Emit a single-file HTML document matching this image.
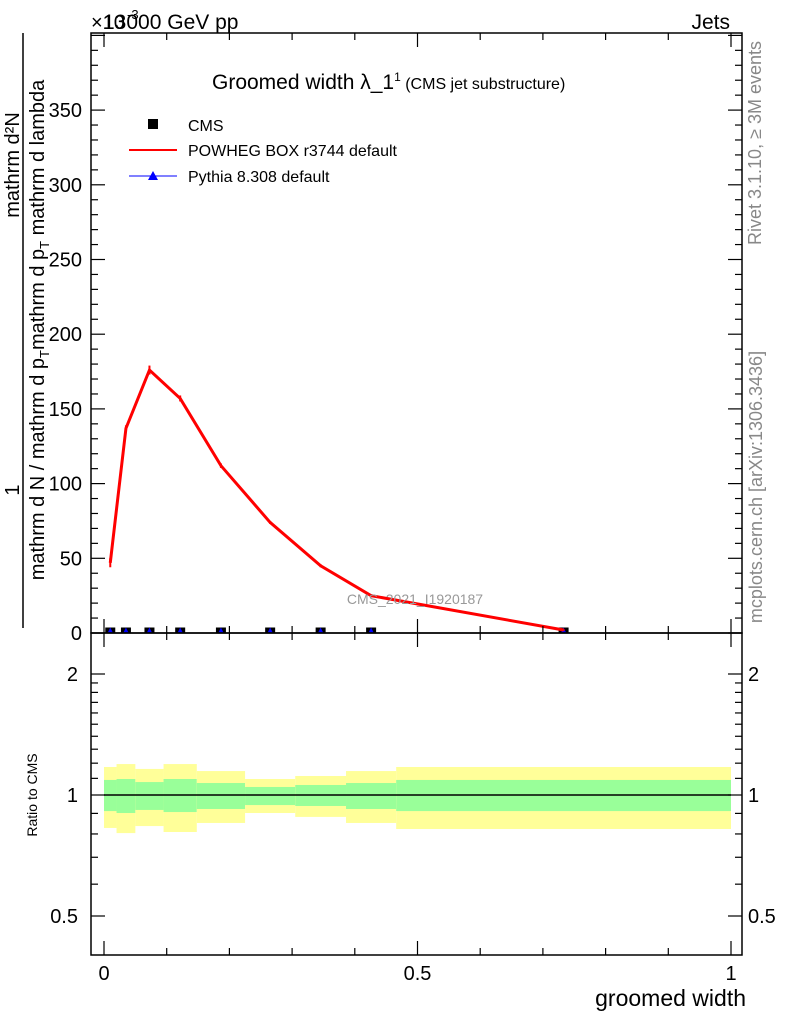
<!DOCTYPE html>
<html><head><meta charset="utf-8"><style>
body{margin:0;background:#fff}
svg{display:block;font-family:"Liberation Sans",sans-serif}
</style></head><body>
<svg id="plot" width="786" height="1024" viewBox="0 0 786 1024" xmlns="http://www.w3.org/2000/svg">
<g id="bands"></g>
<g id="main"></g>
<g id="axes"></g>
<text x="91" y="29" font-size="20">×10</text>
<text x="127" y="19" font-size="13">-3</text>
<text x="103" y="29" font-size="21">13000 GeV pp</text>
<text x="730" y="29" font-size="21" text-anchor="end">Jets</text>
<text x="212" y="89" font-size="21">Groomed width λ_1<tspan font-size="12" dy="-8">1</tspan><tspan font-size="16" dy="8"> (CMS jet substructure)</tspan></text>
<g>
<rect x="148" y="119" width="10" height="10" fill="#000"/>
<text x="188" y="131" font-size="16">CMS</text>
<line x1="129" y1="150" x2="177" y2="150" stroke="red" stroke-width="2"/>
<text x="188" y="156" font-size="16">POWHEG BOX r3744 default</text>
<line x1="129" y1="176" x2="177" y2="176" stroke="blue" stroke-width="1"/>
<polygon points="153,171 148,180 158,180" fill="blue"/>
<text x="188" y="182" font-size="16">Pythia 8.308 default</text>
</g>
<text x="415" y="604" font-size="14" fill="#999" text-anchor="middle">CMS_2021_I1920187</text>
<g>
<line x1="23" y1="33" x2="23" y2="628" stroke="#000" stroke-width="1.5"/>
<text transform="translate(19,490) rotate(-90)" font-size="20" text-anchor="middle">1</text>
<text transform="translate(19,165) rotate(-90)" font-size="20" text-anchor="middle">mathrm d²N</text>
<text transform="translate(44,330) rotate(-90)" font-size="20" text-anchor="middle">mathrm d N / mathrm d p<tspan font-size="13" dy="5">T</tspan><tspan dy="-5">mathrm d p</tspan><tspan font-size="13" dy="5">T</tspan><tspan dy="-5"> mathrm d lambda</tspan></text>
</g>
<text transform="translate(37,795) rotate(-90)" font-size="14" text-anchor="middle">Ratio to CMS</text>
<text x="746" y="1006" font-size="23" text-anchor="end">groomed width</text>
<text transform="translate(761,143) rotate(-90)" font-size="18" fill="#888" text-anchor="middle">Rivet 3.1.10, ≥ 3M events</text>
<text transform="translate(762,487) rotate(-90)" font-size="18" fill="#888" text-anchor="middle">mcplots.cern.ch [arXiv:1306.3436]</text>
</svg>
<script>
const binEdges=[0,0.02,0.05,0.095,0.148,0.225,0.305,0.386,0.466,1.0];
const powhegValues=[47,137,176,157,112,74,45,25,2];
const powhegErr=[3,2,3,2,1.5,1,1,1,0.5];
const cmsValues=[1,1,1,1,1,1,1,1,1];
const yellowUp=[1.174,1.194,1.161,1.194,1.147,1.096,1.115,1.147,1.174];
const yellowLo=[0.828,0.804,0.837,0.809,0.852,0.902,0.882,0.852,0.823];
const greenUp=[1.09,1.096,1.077,1.096,1.071,1.047,1.059,1.071,1.09];
const greenLo=[0.912,0.902,0.918,0.907,0.923,0.944,0.939,0.923,0.912];
const mainYTicks=[0,50,100,150,200,250,300,350];
const ratioYTicks=[0.5,1,2];
const xTicks=[0,0.5,1];

const NS="http://www.w3.org/2000/svg";
const L=91,R=742,T=33,B=633,RB=955;
const sx=v=>104+v*627;
const sy=v=>633-v*1.494;
const sr=v=>795-Math.log2(v)*121;
function mk(tag,attrs,parent){const e=document.createElementNS(NS,tag);for(const k in attrs)e.setAttribute(k,attrs[k]);parent.appendChild(e);return e;}
const bands=document.getElementById('bands'),main=document.getElementById('main'),axes=document.getElementById('axes');
for(let i=0;i<cmsValues.length;i++){
  const x0=sx(binEdges[i]),x1=sx(binEdges[i+1]);
  const y=mk('rect',{x:x0,y:sr(yellowUp[i]),width:x1-x0,height:sr(yellowLo[i])-sr(yellowUp[i]),fill:'#ffff99'},bands);
  
  
  const g=mk('rect',{x:x0,y:sr(greenUp[i]),width:x1-x0,height:sr(greenLo[i])-sr(greenUp[i]),fill:'#99ff99'},bands);
  
  
}
const ref=mk('line',{x1:sx(binEdges[0]),x2:sx(binEdges[binEdges.length-1]),y1:sr(1),y2:sr(1),stroke:'#000','stroke-width':1.5},bands);


const mids=binEdges.slice(0,-1).map((e,i)=>(e+binEdges[i+1])/2);
for(let i=0;i<cmsValues.length;i++){
  const r=mk('rect',{x:sx(mids[i])-5,y:sy(cmsValues[i])-4,width:10,height:6,fill:'#000'},main);
  
  
  const p=mk('polygon',{points:`${sx(mids[i])},${sy(cmsValues[i])-4} ${sx(mids[i])-2.5},${sy(cmsValues[i])+1} ${sx(mids[i])+2.5},${sy(cmsValues[i])+1}`,fill:'blue'},main);
  
  
}
const line=mk('polyline',{points:mids.map((m,i)=>sx(m)+','+sy(powhegValues[i])).join(' '),fill:'none',stroke:'red','stroke-width':3},main);


for(let i=0;i<powhegValues.length;i++){
  const e=mk('line',{x1:sx(mids[i]),x2:sx(mids[i]),y1:sy(powhegValues[i]+powhegErr[i]),y2:sy(powhegValues[i]-powhegErr[i]),stroke:'red','stroke-width':2},main);
  
  
}
const f1=mk('rect',{x:L,y:T,width:R-L,height:B-T,fill:'none',stroke:'#000','stroke-width':1.5},axes);


const f2=mk('rect',{x:L,y:B,width:R-L,height:RB-B,fill:'none',stroke:'#000','stroke-width':1.5},axes);


for(let k=0;k<=10;k++){
  const v=k/10,x=sx(v),len=(k%5===0)?14:7;
  for(const [yb,dir] of [[B,-1],[T,1],[RB,-1],[B,1]]){
    const t=mk('line',{x1:x,x2:x,y1:yb,y2:yb+dir*len,stroke:'#000','stroke-width':1.2},axes);
    
    
  }
}
for(const v of xTicks){
  const t=mk('text',{x:sx(v),y:980,'font-size':20,'text-anchor':'middle'},axes);t.textContent=String(v);
  
  
}
for(let v=0;v<=400;v+=10){
  const y=sy(v);if(y<T)break;const len=(v%50===0)?14:7;
  for(const [xb,dir] of [[L,1],[R,-1]]){
    const t=mk('line',{x1:xb,x2:xb+dir*len,y1:y,y2:y,stroke:'#000','stroke-width':1.2},axes);
    
    
  }
}
for(const v of mainYTicks){
  const t=mk('text',{x:82,y:sy(v)+7,'font-size':20,'text-anchor':'end'},axes);t.textContent=String(v);
  
  
}
const minor=[0.5,0.6,0.7,0.8,0.9,1,2,1.1,1.2,1.3,1.4,1.5,1.6,1.7,1.8,1.9];
for(const v of minor){
  const y=sr(v),len=ratioYTicks.includes(v)?14:7;
  for(const [xb,dir] of [[L,1],[R,-1]]){
    const t=mk('line',{x1:xb,x2:xb+dir*len,y1:y,y2:y,stroke:'#000','stroke-width':1.2},axes);
    
    
  }
}
for(const v of ratioYTicks){
  for(const [x,a] of [[78,'end'],[748,'start']]){
    const t=mk('text',{x:x,y:sr(v)+7,'font-size':20,'text-anchor':a},axes);t.textContent=String(v);
    
    
  }
}
</script>
</body></html>
